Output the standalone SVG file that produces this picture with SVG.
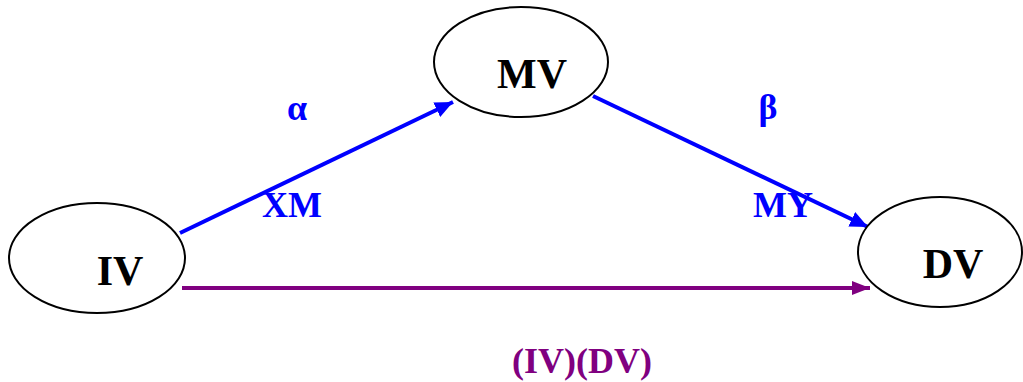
<svg xmlns="http://www.w3.org/2000/svg" width="1023" height="382" viewBox="0 0 1023 382">
<style>
.node{fill:#fff;stroke:#000;stroke-width:2}
.nt{font-family:"Liberation Serif",serif;font-weight:bold;font-size:42px;fill:#000}
.lb{font-family:"Liberation Serif",serif;font-weight:bold;font-size:36px}
.blue{stroke:#0000FF;stroke-width:4;fill:none}
.purple{stroke:#800080;stroke-width:4;fill:none}
</style>
<defs>
<marker id="ab" markerUnits="userSpaceOnUse" markerWidth="20" markerHeight="16" refX="18" refY="8" orient="auto">
<path d="M0,0 L18,8 L0,16 Z" fill="#0000FF"/>
</marker>
<marker id="ap" markerUnits="userSpaceOnUse" markerWidth="20" markerHeight="16" refX="18" refY="8" orient="auto">
<path d="M0,1 L18,8 L0,15 Z" fill="#800080"/>
</marker>
</defs>
<rect width="1023" height="382" fill="#fff"/>
<g id="connectors">
<line class="blue" x1="180" y1="233" x2="453" y2="102" marker-end="url(#ab)"/>
<line class="blue" x1="593" y1="96" x2="868" y2="227" marker-end="url(#ab)"/>
<line class="purple" x1="182" y1="288" x2="870" y2="288" marker-end="url(#ap)"/>
</g>
<g id="MV">
<ellipse class="node" cx="521" cy="62" rx="87" ry="55"/>
<text class="nt" x="532" y="88" text-anchor="middle">MV</text>
</g>
<g id="IV">
<ellipse class="node" cx="97" cy="258" rx="88" ry="55"/>
<text class="nt" x="120" y="285" text-anchor="middle">IV</text>
</g>
<g id="DV">
<ellipse class="node" cx="940" cy="252" rx="82" ry="55"/>
<text class="nt" x="953" y="278" text-anchor="middle">DV</text>
</g>
<g id="labels">
<text class="lb" x="297" y="120" text-anchor="middle" fill="#0000FF">α</text>
<text class="lb" x="292" y="217" text-anchor="middle" fill="#0000FF">XM</text>
<text class="lb" x="768" y="119" text-anchor="middle" fill="#0000FF">β</text>
<text class="lb" x="783" y="217" text-anchor="middle" fill="#0000FF">MY</text>
<text class="lb" x="582" y="373" text-anchor="middle" fill="#800080">(IV)(DV)</text>
</g>
</svg>
